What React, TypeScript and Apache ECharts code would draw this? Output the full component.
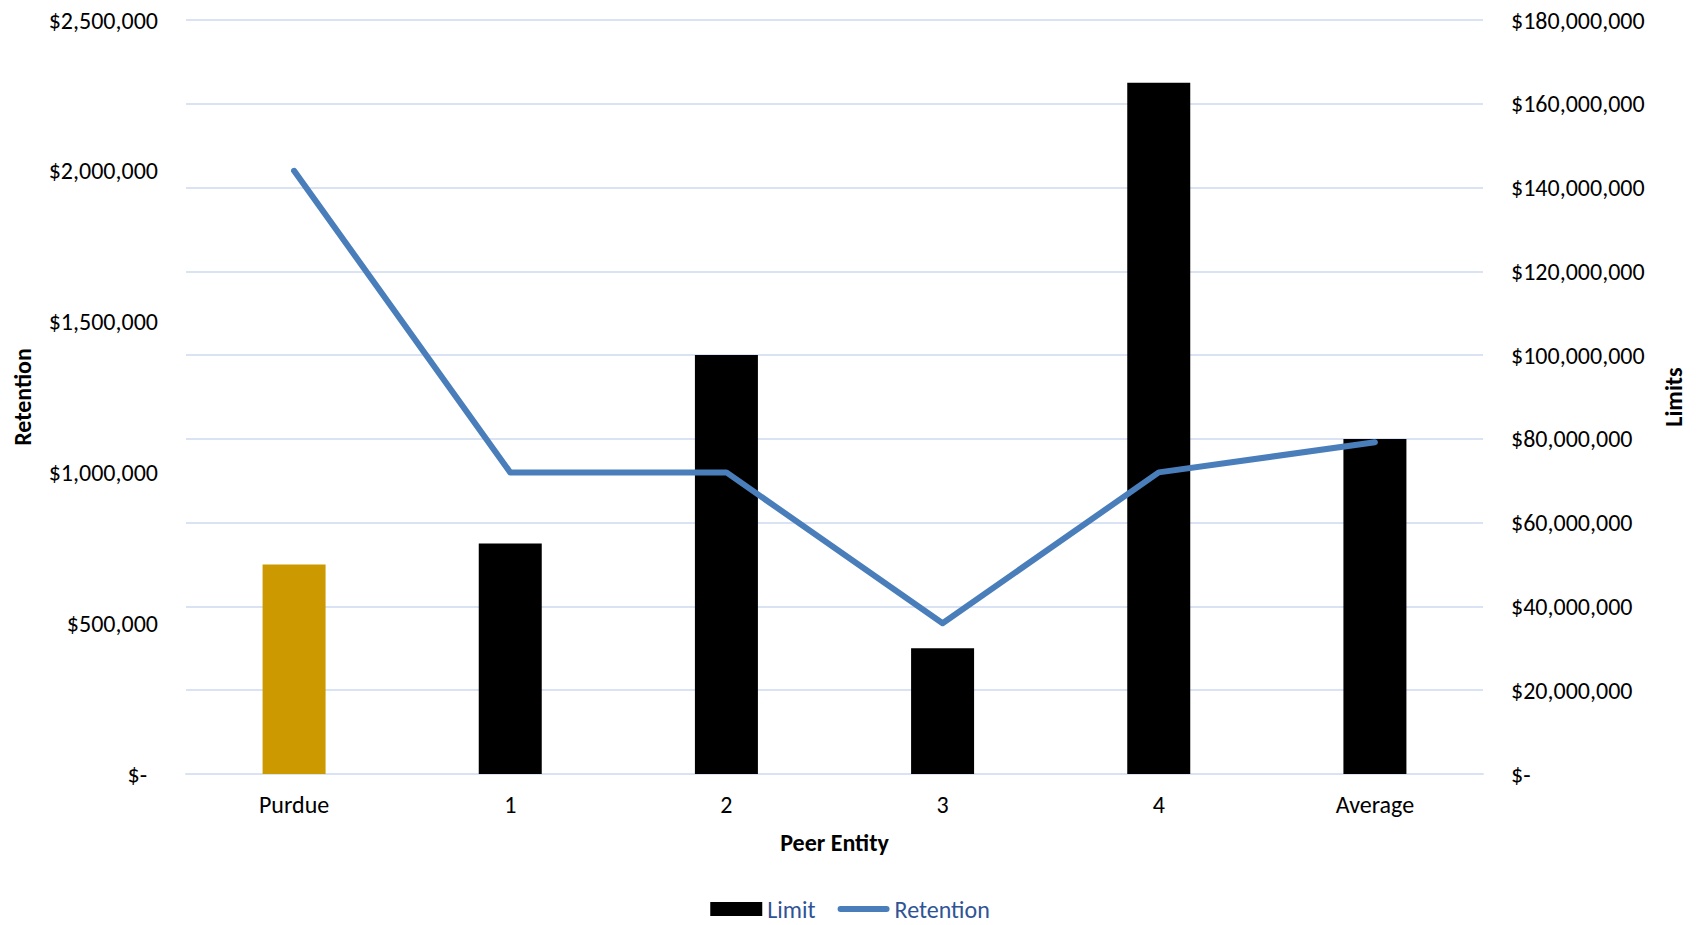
import React, { useEffect, useRef } from "react";
import * as echarts from "echarts";

const categories = ["Purdue", "1", "2", "3", "4", "Average"];
const limitValues = [50000000, 55000000, 100000000, 30000000, 165000000, 80000000];
const retentionValues = [2000000, 1000000, 1000000, 500000, 1000000, 1100000];
const barColors = ["#CC9900", "#000000", "#000000", "#000000", "#000000", "#000000"];

const FONT = "Carlito, Calibri, Lato, sans-serif";
const FS = 24;
const LINE_BLUE = "#4a7ebb";

const money = (v: number) => (v === 0 ? "{d|$-}" : "$" + v.toLocaleString("en-US"));

export default function App() {
  const ref = useRef<HTMLDivElement>(null);

  useEffect(() => {
    if (!ref.current) return;
    const chart = echarts.init(ref.current, undefined, { renderer: "svg" });
    chart.setOption({
      animation: false,
      backgroundColor: "#ffffff",
      textStyle: { fontFamily: FONT },
      grid: { left: 186, right: 217, top: 20, bottom: 151, containLabel: false },
      legend: {
        left: "center",
        top: 892,
        itemWidth: 52,
        itemHeight: 14,
        itemGap: 22,
        textStyle: { color: "#2f5496", fontSize: FS, fontFamily: FONT },
        data: [
          { name: "Limit", icon: "rect", itemStyle: { color: "#000000" } },
          {
            name: "Retention",
            icon: "path://M3,0 L49,0 A3,3 0 0 1 49,6 L3,6 A3,3 0 0 1 3,0 Z",
            itemStyle: { color: LINE_BLUE },
          },
        ],
      },
      xAxis: {
        type: "category",
        data: categories,
        axisTick: { show: false },
        axisLine: { lineStyle: { color: "#d9e3f3", width: 2 } },
        axisLabel: { color: "#000", fontSize: FS, margin: 18, fontFamily: FONT },
        name: "Peer Entity",
        nameLocation: "middle",
        nameGap: 68,
        nameTextStyle: {
          color: "#000",
          fontSize: FS,
          fontWeight: "bold",
          verticalAlign: "middle",
          fontFamily: FONT,
        },
      },
      yAxis: [
        {
          type: "value",
          position: "left",
          min: 0,
          max: 2500000,
          interval: 500000,
          splitLine: { show: false },
          axisLine: { show: false },
          axisTick: { show: false },
          axisLabel: {
            color: "#000",
            fontSize: FS,
            margin: 28,
            fontFamily: FONT,
            formatter: money,
            rich: { d: { color: "#000", fontSize: FS, fontFamily: FONT, padding: [0, 11, 0, 0] } },
          },
          name: "Retention",
          nameLocation: "middle",
          nameRotate: 90,
          nameGap: 164,
          nameTextStyle: {
            color: "#000",
            fontSize: FS,
            fontWeight: "bold",
            verticalAlign: "middle",
            fontFamily: FONT,
          },
        },
        {
          type: "value",
          position: "right",
          min: 0,
          max: 180000000,
          interval: 20000000,
          splitLine: { show: true, lineStyle: { color: "#d9e3f3", width: 2 } },
          axisLine: { show: false },
          axisTick: { show: false },
          axisLabel: {
            color: "#000",
            fontSize: FS,
            margin: 28,
            fontFamily: FONT,
            formatter: money,
            rich: { d: { color: "#000", fontSize: FS, fontFamily: FONT } },
          },
          name: "Limits",
          nameLocation: "middle",
          nameRotate: 90,
          nameGap: 190,
          nameTextStyle: {
            color: "#000",
            fontSize: FS,
            fontWeight: "bold",
            verticalAlign: "middle",
            fontFamily: FONT,
          },
        },
      ],
      series: [
        {
          name: "Limit",
          type: "bar",
          yAxisIndex: 1,
          barWidth: 63,
          itemStyle: { color: "#000000" },
          data: limitValues.map((v, i) => ({ value: v, itemStyle: { color: barColors[i] } })),
        },
        {
          name: "Retention",
          type: "line",
          yAxisIndex: 0,
          symbol: "none",
          z: 5,
          itemStyle: { color: LINE_BLUE },
          lineStyle: { color: LINE_BLUE, width: 6, cap: "round", join: "round" },
          data: retentionValues,
        },
      ],
    });
    return () => chart.dispose();
  }, []);

  return (
    <div
      ref={ref}
      style={{ position: "fixed", left: 0, top: 0, width: 1700, height: 925 }}
    />
  );
}
